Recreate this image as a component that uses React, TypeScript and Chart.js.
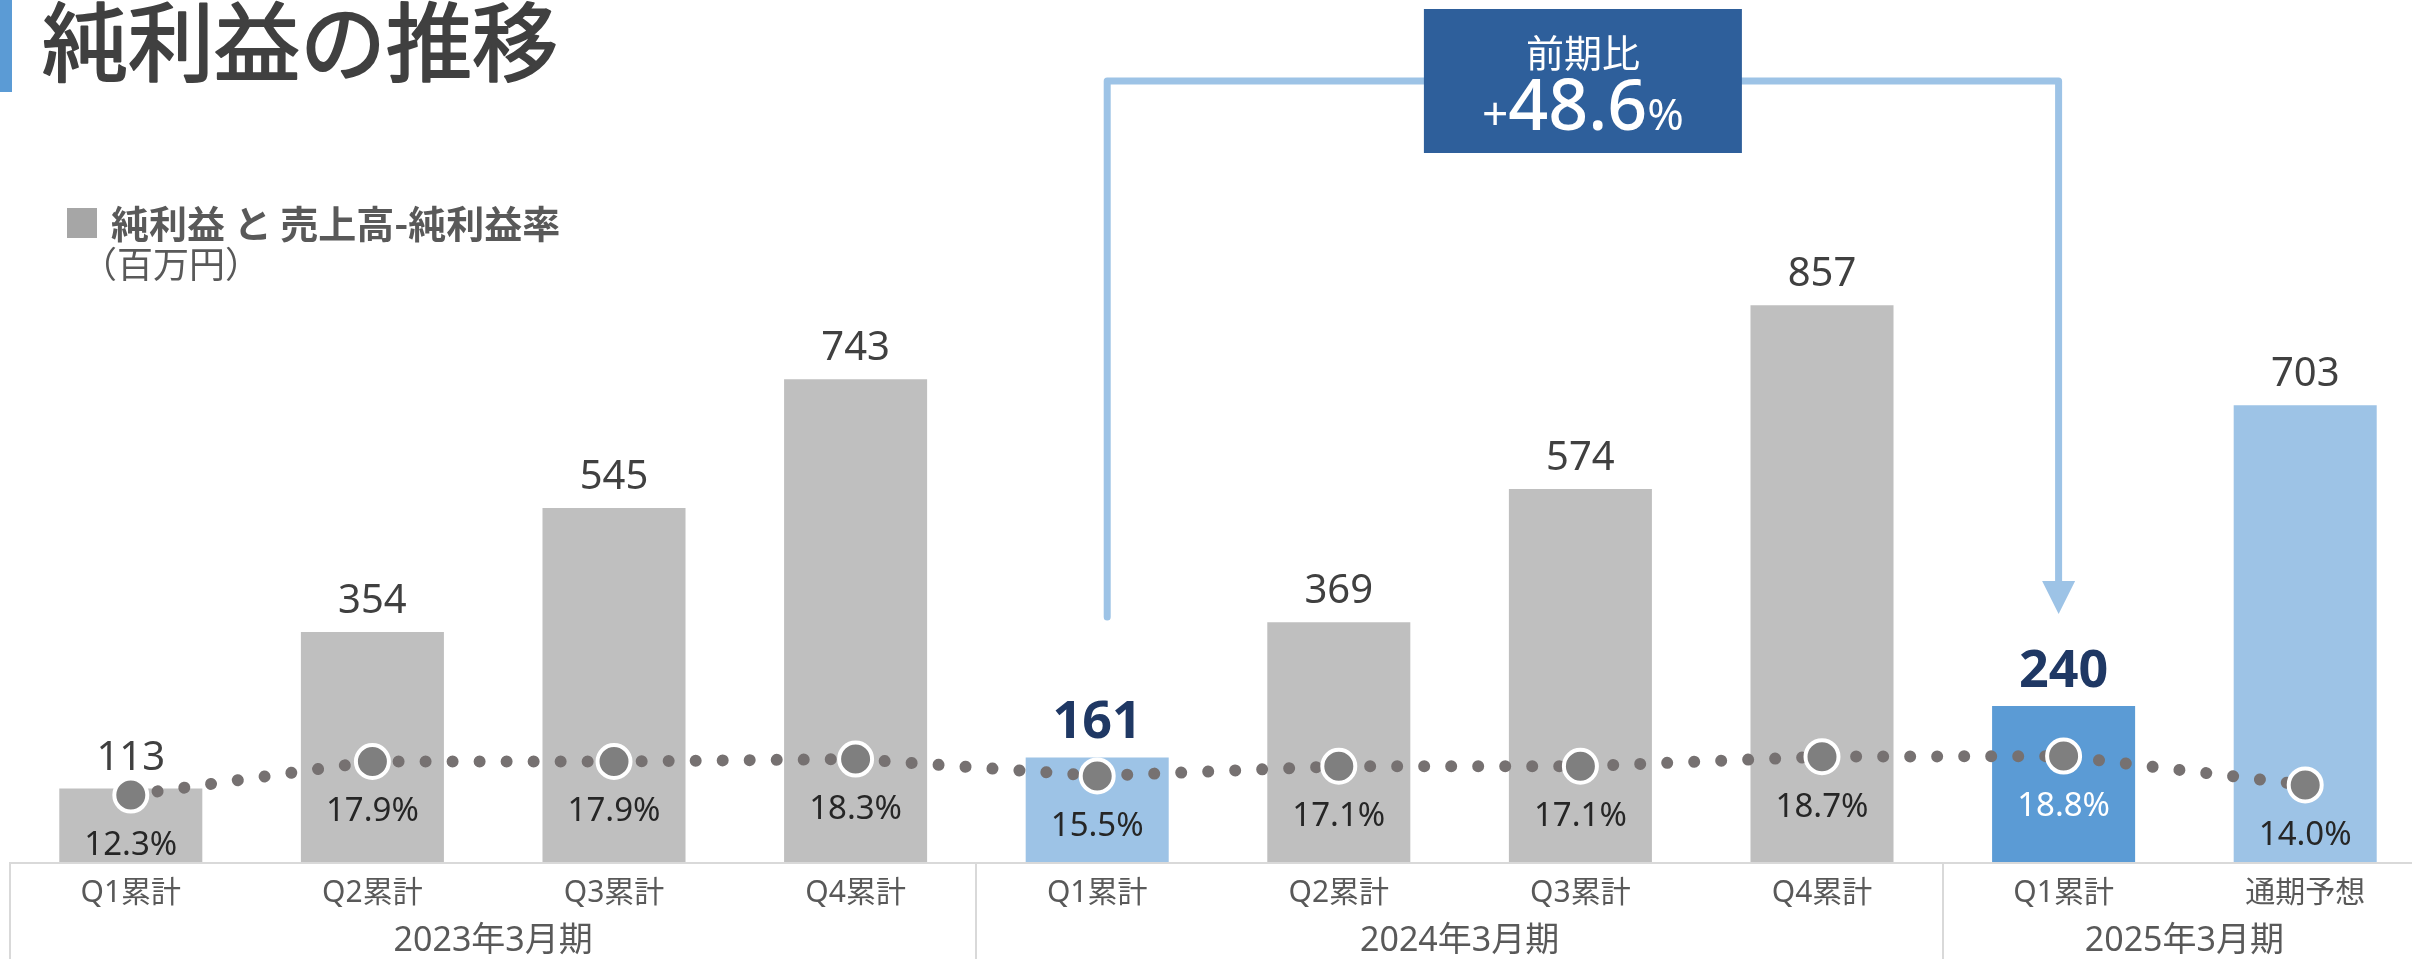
import React, { useEffect, useRef } from "react";
import { Chart, registerables } from "chart.js";

Chart.register(...registerables);

// ---- data ----
const categories = ["Q1累計", "Q2累計", "Q3累計", "Q4累計", "Q1累計", "Q2累計", "Q3累計", "Q4累計", "Q1累計", "通期予想"];
const fiscalGroups = ["2023年3月期", "2024年3月期", "2025年3月期"];
const groupFirst = [0, 4, 8];
const groupLast = [3, 7, 9];
const netIncome = [113, 354, 545, 743, 161, 369, 574, 857, 240, 703];
const marginPct = [12.3, 17.9, 17.9, 18.3, 15.5, 17.1, 17.1, 18.7, 18.8, 14.0];
const compareIndex = 4;
const currentIndex = 8;
const forecastIndex = 9;
const titleText = "純利益の推移";
const legendText = "純利益 と 売上高-純利益率";
const unitText = "（百万円）";
const yoyCaption = "前期比";
const yoyValue = "48.6";

// ---- styles ----
const GRAY_BAR = "#BFBFBF";
const LIGHT_BLUE = "#9DC3E6";
const MID_BLUE = "#5B9BD5";
const NAVY = "#1F3864";
const BOX_BLUE = "#2E5F9B";
const LATIN = '"Noto Sans", "Noto Sans CJK JP", sans-serif';
const CJK = '"Noto Sans CJK JP", "Noto Sans", sans-serif';

const barColors = categories.map((_, i) =>
  i === currentIndex ? MID_BLUE : i === compareIndex || i === forecastIndex ? LIGHT_BLUE : GRAY_BAR
);

const overlay = {
  id: "overlay",
  afterDatasetsDraw(chart: any) {
    const ctx = chart.ctx as CanvasRenderingContext2D;
    ctx.save();
    ctx.textAlign = "center";
    ctx.textBaseline = "alphabetic";
    // bar value labels
    const barMeta = chart.getDatasetMeta(0);
    barMeta.data.forEach((bar: any, i: number) => {
      const hi = i === compareIndex || i === currentIndex;
      ctx.font = hi ? `bold 52px ${LATIN}` : `40px ${LATIN}`;
      ctx.fillStyle = hi ? NAVY : "#404040";
      ctx.fillText(String(netIncome[i]), bar.x, bar.y - 19);
    });
    // percent labels
    const lineMeta = chart.getDatasetMeta(1);
    lineMeta.data.forEach((pt: any, i: number) => {
      ctx.font = `33px ${LATIN}`;
      ctx.fillStyle = i === currentIndex ? "#FFFFFF" : "#262626";
      ctx.fillText(marginPct[i].toFixed(1) + "%", pt.x, pt.y + 60);
    });
    ctx.restore();
  },
  afterDraw(chart: any) {
    const ctx = chart.ctx as CanvasRenderingContext2D;
    const xs = chart.scales.x;
    const area = chart.chartArea;
    const step = xs.getPixelForTick(1) - xs.getPixelForTick(0);
    ctx.save();

    // axis box
    ctx.strokeStyle = "#D9D9D9";
    ctx.lineWidth = 2;
    ctx.beginPath();
    ctx.moveTo(area.left, area.bottom + 1);
    ctx.lineTo(chart.width, area.bottom + 1);
    const bounds = [groupFirst[0], ...groupLast.map((l) => l + 1)];
    bounds.forEach((b) => {
      const bx = Math.round(xs.getPixelForTick(0) - step / 2 + b * step);
      ctx.moveTo(bx, area.bottom);
      ctx.lineTo(bx, chart.height);
    });
    ctx.stroke();

    // category labels
    ctx.textAlign = "center";
    ctx.textBaseline = "alphabetic";
    ctx.fillStyle = "#595959";
    ctx.font = `30px ${LATIN}`;
    categories.forEach((c, i) => {
      ctx.fillText(c, xs.getPixelForTick(i), area.bottom + 40);
    });
    ctx.font = `34px ${LATIN}`;
    fiscalGroups.forEach((g, k) => {
      const cx = (xs.getPixelForTick(groupFirst[k]) + xs.getPixelForTick(groupLast[k])) / 2;
      ctx.fillText(g, cx, area.bottom + 89);
    });

    // title
    ctx.fillStyle = MID_BLUE;
    ctx.fillRect(0, 0, 12, 92);
    ctx.textAlign = "left";
    ctx.fillStyle = "#404040";
    ctx.strokeStyle = "#404040";
    ctx.lineWidth = 2;
    ctx.lineJoin = "round";
    ctx.font = `86px ${CJK}`;
    ctx.fillText(titleText, 42, 75);
    ctx.strokeText(titleText, 42, 75);

    // legend
    ctx.fillStyle = "#A6A6A6";
    ctx.fillRect(67, 208, 30, 30);
    ctx.fillStyle = "#595959";
    ctx.font = `bold 38px ${CJK}`;
    ctx.fillText(legendText, 111, 238);
    ctx.font = `36px ${CJK}`;
    ctx.fillText(unitText, 81, 278);

    // callout connector
    const leftX = xs.getPixelForTick(compareIndex) + 10;
    const rightX = xs.getPixelForTick(currentIndex) - 5;
    ctx.strokeStyle = LIGHT_BLUE;
    ctx.lineWidth = 7;
    ctx.lineCap = "round";
    ctx.lineJoin = "round";
    ctx.beginPath();
    ctx.moveTo(leftX, 617);
    ctx.lineTo(leftX, 81);
    ctx.lineTo(rightX, 81);
    ctx.lineTo(rightX, 590);
    ctx.stroke();
    ctx.fillStyle = LIGHT_BLUE;
    ctx.beginPath();
    ctx.moveTo(rightX - 16.5, 581);
    ctx.lineTo(rightX + 16.5, 581);
    ctx.lineTo(rightX, 614);
    ctx.closePath();
    ctx.fill();

    // callout box
    const cx = (leftX + rightX) / 2;
    ctx.fillStyle = BOX_BLUE;
    ctx.fillRect(cx - 159, 9, 318, 144);
    ctx.fillStyle = "#FFFFFF";
    ctx.textAlign = "center";
    ctx.font = `38px ${CJK}`;
    ctx.fillText(yoyCaption, cx, 67);
    ctx.textAlign = "left";
    const fPlus = `46px ${LATIN}`;
    const fNum = `500 70px ${LATIN}`;
    const fPct = `44px ${LATIN}`;
    ctx.font = fPlus;
    const wPlus = ctx.measureText("+").width;
    ctx.font = fNum;
    const wNum = ctx.measureText(yoyValue).width;
    ctx.font = fPct;
    const wPct = ctx.measureText("%").width;
    let px = cx - (wPlus + wNum + wPct) / 2;
    ctx.font = fPlus;
    ctx.fillText("+", px, 130);
    px += wPlus;
    ctx.font = fNum;
    ctx.fillText(yoyValue, px, 130);
    px += wNum;
    ctx.font = fPct;
    ctx.fillText("%", px, 130);

    ctx.restore();
  },
};

export default function App() {
  const canvasRef = useRef<HTMLCanvasElement | null>(null);

  useEffect(() => {
    if (!canvasRef.current) return;
    const chart = new Chart(canvasRef.current, {
      type: "bar",
      data: {
        labels: categories,
        datasets: [
          {
            type: "bar",
            label: "純利益",
            data: netIncome,
            backgroundColor: barColors,
            yAxisID: "y",
            order: 2,
            barPercentage: 0.592,
            categoryPercentage: 1,
          },
          {
            type: "line",
            label: "売上高-純利益率",
            data: marginPct,
            yAxisID: "y1",
            order: 1,
            borderColor: "#767171",
            borderWidth: 12,
            borderDash: [0.01, 27],
            borderCapStyle: "round",
            tension: 0,
            fill: false,
            pointRadius: 16.5,
            pointHoverRadius: 16.5,
            pointBorderWidth: 4,
            pointBackgroundColor: "#7F7F7F",
            pointBorderColor: "#FFFFFF",
          },
        ],
      } as any,
      options: {
        animation: false,
        responsive: true,
        maintainAspectRatio: false,
        events: [],
        layout: { padding: { left: 10, right: 4, top: 150, bottom: 97 }, autoPadding: false },
        plugins: { legend: { display: false }, tooltip: { enabled: false }, title: { display: false } },
        scales: {
          x: { type: "category", display: false, offset: true, grid: { display: false } },
          y: { display: false, min: 0, max: 1096 },
          y1: { display: false, min: 1.15, max: 119.8, position: "right" },
        },
      } as any,
      plugins: [overlay],
    });
    return () => chart.destroy();
  }, []);

  return (
    <div style={{ position: "fixed", left: 0, top: 0, width: 2412, height: 959, overflow: "hidden", background: "#FFFFFF" }}>
      <div style={{ position: "absolute", left: 0, top: 0, width: 2430, height: 959 }}>
        <canvas ref={canvasRef} />
      </div>
    </div>
  );
}
